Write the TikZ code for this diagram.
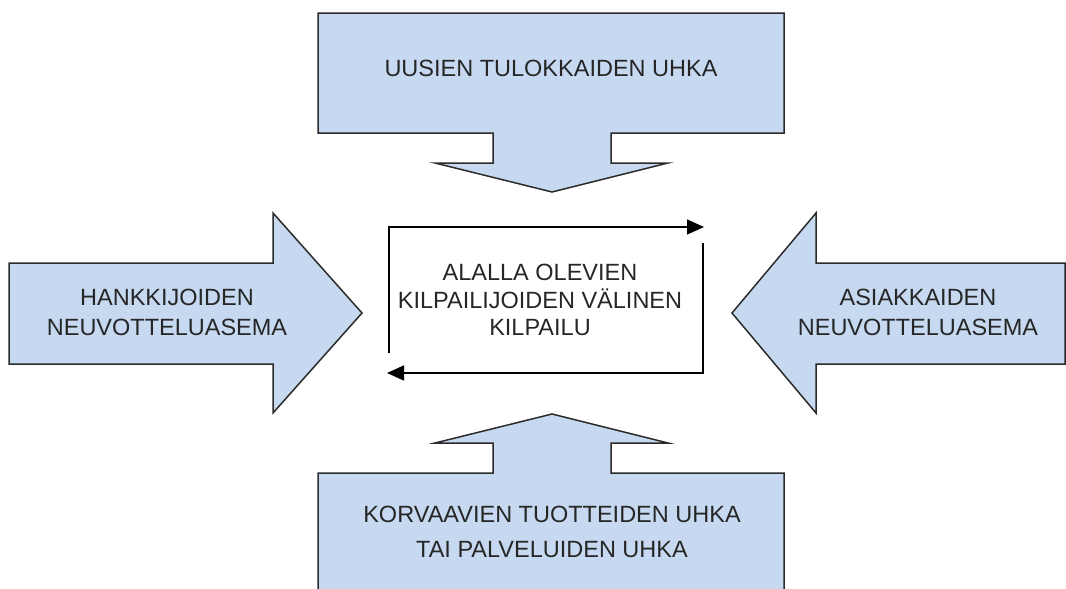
\documentclass[tikz,border=0pt]{standalone}
\usepackage{fontspec}
\setmainfont{Liberation Sans}
\usepackage{xcolor}
\usepackage{tikz}
\usetikzlibrary{arrows.meta}
\definecolor{voimasin}{HTML}{C6D9F0}
\definecolor{reuna}{HTML}{2B2B2B}
\tikzset{
  voima/.style = {fill=voimasin, draw=reuna, line width=1.5pt,
    line join=miter},% lohkonuoli
  voimateksti/.style = {align=center, inner sep=0pt, text=black!85,
    font=\fontsize{23.5}{30}\selectfont},% nuolen teksti
  kehys/.style = {draw=black, line width=1.4pt,
    -{Triangle[length=17pt,width=15pt]}}% keskilaatikon nuolet
}

\begin{document}
\begin{tikzpicture}[x=1pt,y=-1pt]
\clip (0,0) rectangle (1066,589);
\useasboundingbox (0,0) rectangle (1066,589);
% lohkonuolet
\draw [voima] (318,13) -- (784,13) -- (784,133) -- (611,133) -- (611,163)
  -- (668,163) -- (552,192) -- (435,163) -- (493,163) -- (493,133)
  -- (318,133) -- cycle;
\draw [voima] (318,600) -- (318,473) -- (493,473) -- (493,443)
  -- (435,443) -- (552,414) -- (668,443) -- (611,443) -- (611,473)
  -- (784,473) -- (784,600);
\draw [voima] (9,263) -- (273,263) -- (273,213) -- (362,313) -- (273,413)
  -- (273,364) -- (9,364) -- cycle;
\draw [voima] (1065,263) -- (816,263) -- (816,213) -- (732,313)
  -- (816,413) -- (816,364) -- (1065,364) -- cycle;
% tekstit
\node [voimateksti] (uudet) at (551,68) {UUSIEN TULOKKAIDEN UHKA};
\node [voimateksti] (hankkijat) at (167,312)
  {HANKKIJOIDEN\\NEUVOTTELUASEMA};
\node [voimateksti] (asiakkaat) at (918,312)
  {ASIAKKAIDEN\\NEUVOTTELUASEMA};
\node [voimateksti, font=\fontsize{23.5}{27.5}\selectfont] (kilpailu)
  at (540,300) {ALALLA OLEVIEN\\KILPAILIJOIDEN VÄLINEN\\KILPAILU};
\node [voimateksti, font=\fontsize{23.5}{35}\selectfont] (korvaavat)
  at (552,532) {KORVAAVIEN TUOTTEIDEN UHKA\\TAI PALVELUIDEN UHKA};
% keskilaatikon kehys
\coordinate (va) at (389,353);
\coordinate (vy) at (389,227);
\coordinate (oy) at (704,227);
\coordinate (oa) at (703,243);
\coordinate (oala) at (703,373);
\coordinate (vala) at (387,373);
\draw [kehys] (va) -- (vy) -- (oy);
\draw [kehys] (oa) -- (oala) -- (vala);
\end{tikzpicture}
\end{document}
